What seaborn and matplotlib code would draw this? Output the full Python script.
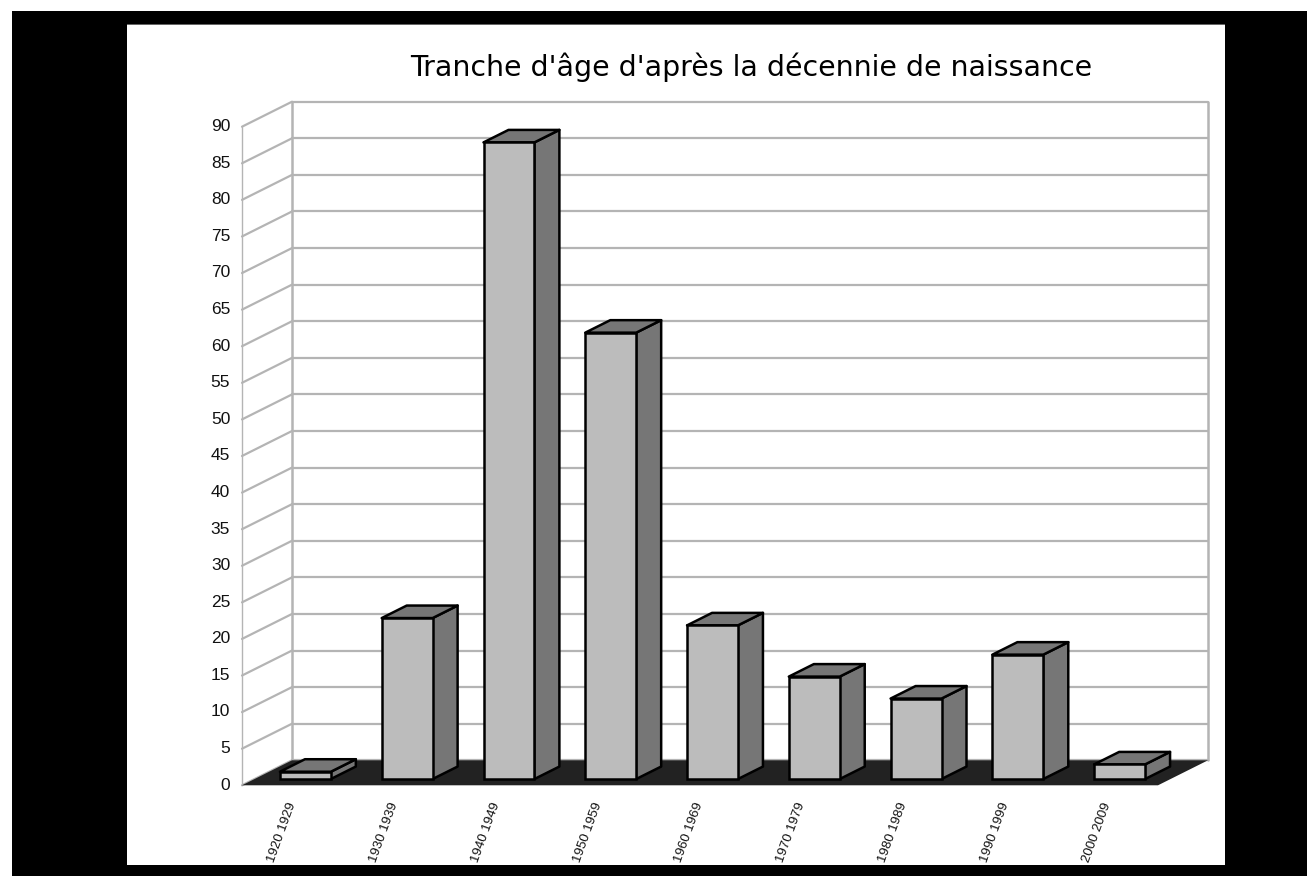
import matplotlib
matplotlib.use("Agg")
import matplotlib.pyplot as plt
from matplotlib.patches import Rectangle
from matplotlib.transforms import ScaledTranslation
import numpy as np
import seaborn as sns

# data
decades = ["1920 1929", "1930 1939", "1940 1949", "1950 1959", "1960 1969",
           "1970 1979", "1980 1989", "1990 1999", "2000 2009"]
counts = [1, 22, 87, 61, 21, 14, 11, 17, 2]
y_ticks = list(range(0, 95, 5))
title = "Tranche d'âge d'après la décennie de naissance"

W, H = 1307, 876
FRONT = "#bcbcbc"
SIDE = "#767676"
GRID = "#b4b4b4"
FLOOR = "#222222"

sns.set_theme(style="white")
plt.rcParams["font.family"] = ["Liberation Sans", "DejaVu Sans"]

fig = plt.figure(figsize=(W / 100, H / 100), dpi=100, facecolor="white")


def px_rect(x0, y0, x1, y1, **kw):
    # rectangle given in picture pixels, behind the axes
    fig.add_artist(Rectangle((x0 / W, 1 - y1 / H), (x1 - x0) / W, (y1 - y0) / H,
                             transform=fig.transFigure, zorder=-5, **kw))


px_rect(12, 11, W, H, facecolor="black", edgecolor="none")
px_rect(127, 24, 1225, 865, facecolor="#666666", edgecolor="none")
px_rect(127, 25, 1225, 865, facecolor="white", edgecolor="none")

# axes = front plane of the 3d box
ax = fig.add_axes([242 / W, 1 - 785.3 / H, 916 / W, 658.6 / H])
ax.patch.set_alpha(0)

sns.barplot(x=decades, y=counts, color=FRONT, saturation=1, width=0.5,
            edgecolor="black", linewidth=1.8, ax=ax, zorder=5)

ax.set_xlim(-0.5, 8.5)
ax.set_ylim(0, 90)
ax.set_xlabel("")
ax.set_ylabel("")
sns.despine(ax=ax, left=True, bottom=True)

# depth of the box, in data units
dx = 50 / (916 / 9)
dy = 25 / (658.6 / 90)
x0, x1 = -0.5, 8.5

# walls and gridlines
for v in y_ticks:
    ax.plot([x0, x0 + dx], [v, v + dy], color=GRID, lw=1.6, clip_on=False, zorder=1)
    ax.plot([x0 + dx, x1 + dx], [v + dy, v + dy], color=GRID, lw=1.6, clip_on=False, zorder=1)
ax.plot([x0, x0], [0, 90], color=GRID, lw=1, clip_on=False, zorder=1)
ax.plot([x0 + dx, x0 + dx], [dy, 90 + dy], color=GRID, lw=1.8, clip_on=False, zorder=1)
ax.plot([x1 + dx, x1 + dx], [dy, 90 + dy], color=GRID, lw=1.8, clip_on=False, zorder=1)

# floor
ax.fill([x0, x1, x1 + dx, x0 + dx], [0, 0, dy, dy], color=FLOOR, lw=0,
        clip_on=False, zorder=2)

# bars sit in the middle half of the depth: shift front faces, add side and top
for i, (patch, v) in enumerate(zip(ax.patches, counts)):
    patch.set_x(patch.get_x() + dx / 4)
    patch.set_y(dy / 4)
    patch.set_clip_on(False)
    left = patch.get_x()
    right = left + patch.get_width()
    base = dy / 4
    top = base + v
    ax.fill([right, right + dx / 2, right + dx / 2, right],
            [base, base + dy / 2, top + dy / 2, top],
            facecolor=SIDE, edgecolor="black", lw=1.8, joinstyle="round",
            clip_on=False, zorder=4)
    ax.fill([left, right, right + dx / 2, left + dx / 2],
            [top, top, top + dy / 2, top + dy / 2],
            facecolor=SIDE, edgecolor="black", lw=1.8, joinstyle="round",
            clip_on=False, zorder=4)

ax.set_yticks(y_ticks)
ax.tick_params(axis="y", length=0, pad=8.5, labelsize=12.5, labelcolor="#111111")
ax.tick_params(axis="x", length=0, pad=13, labelsize=9.5, labelcolor="#111111")
ax.set_xticks(range(len(decades)))
ax.set_xticklabels(decades, rotation=70, ha="right", va="center", rotation_mode="anchor")

# tick labels sit a little above their gridline
for lab in ax.get_yticklabels():
    lab.set_transform(lab.get_transform() + ScaledTranslation(0, 1.2 / 72, fig.dpi_scale_trans))

ax.text(0.556, 1.0 + (126.7 - 67) / 658.6, title, transform=ax.transAxes,
        ha="center", va="center", fontsize=20.4, color="black",
        family=["DejaVu Sans"], clip_on=False)

fig.savefig("out.png", dpi=100, facecolor=fig.get_facecolor())
